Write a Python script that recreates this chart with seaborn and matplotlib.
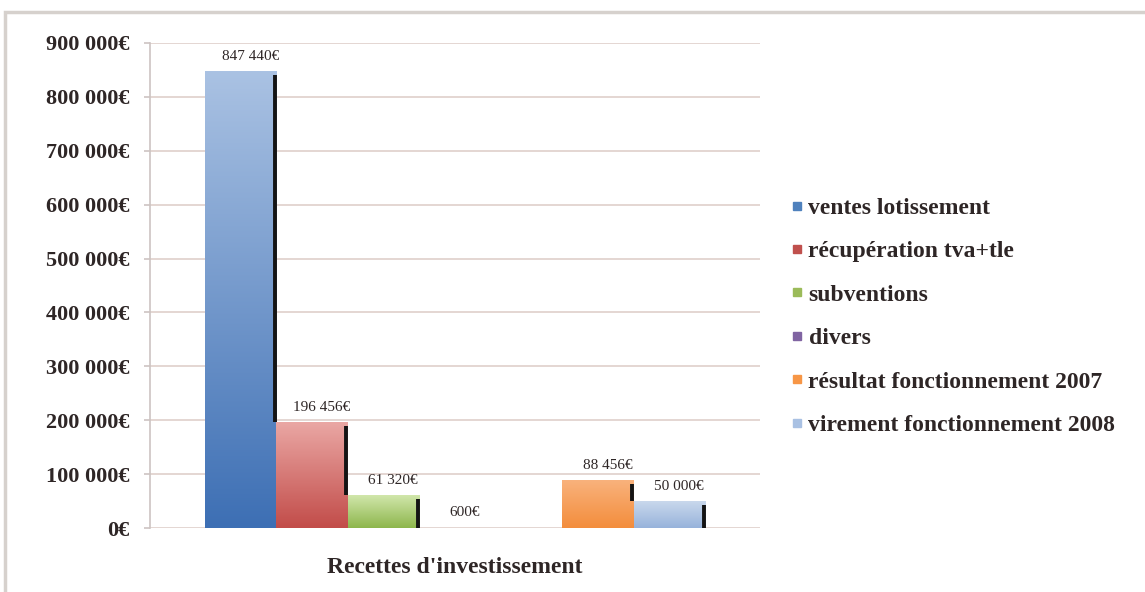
import numpy as np
import pandas as pd
import matplotlib
matplotlib.use("Agg")
import matplotlib.pyplot as plt
import seaborn as sns
from matplotlib.colors import LinearSegmentedColormap
from matplotlib.lines import Line2D
from matplotlib.patches import Rectangle

# ---------------- data ----------------
series = ["ventes lotissement", "récupération tva+tle", "subventions", "divers",
          "résultat fonctionnement 2007", "virement fonctionnement 2008"]
values = [847440, 196456, 61320, 600, 88456, 50000]
category = "Recettes d'investissement"
yticks = [0, 100000, 200000, 300000, 400000, 500000, 600000, 700000, 800000, 900000]

# ---------------- style ----------------
legend_colors = ["#4f81bd", "#c0504d", "#9bbb59", "#8064a2", "#f79646", "#a9c1e3"]
grad_bottom = ["#3d6fb4", "#c24c49", "#8db64c", "#7a5f9e", "#f38d3c", "#97b3db"]
grad_top = ["#aac2e3", "#eaa7a4", "#d3e8ae", "#b9a8d0", "#f9b27c", "#c9d8ec"]

sns.set_theme(style="white")
plt.rcParams["font.family"] = ["Liberation Serif", "DejaVu Serif"]
text_color = "#2e2626"
grid_color = "#dfd0cb"
axis_color = "#cdc4c2"

slot_order = series[:4] + [" "] + series[4:]
df = pd.DataFrame({"serie": series, "valeur": values})

fig = plt.figure(figsize=(11.45, 5.92), dpi=100)
fig.patch.set_facecolor("white")
ax = fig.add_axes([150 / 1145, 64 / 592, 610 / 1145, 485 / 592])

sns.barplot(data=df, x="serie", y="valeur", hue="serie", order=slot_order,
            hue_order=series, palette=dict(zip(series, legend_colors)),
            width=1.0, dodge=False, legend=False, saturation=1, ax=ax,
            errorbar=None, zorder=3)

ax.set_xlim(-1.27, 7.27)
ax.set_ylim(0, 900000)

# gradient fill + right-edge dark line
bars = []
for cont in ax.containers:
    for b in cont:
        if np.isfinite(b.get_height()):
            bars.append(b)
bars.sort(key=lambda b: b.get_x())
for i, b in enumerate(bars):
    x0, w, h = b.get_x(), b.get_width(), b.get_height()
    cmap = LinearSegmentedColormap.from_list("g", [grad_bottom[i], grad_top[i]])
    im = ax.imshow(np.linspace(0, 1, 256).reshape(-1, 1), origin="lower",
                   extent=[x0, x0 + w, 0, h], aspect="auto", cmap=cmap, zorder=3.5)
    im.set_clip_path(b)
    b.set_edgecolor("none")
    nxt = 0
    if i + 1 < len(bars) and abs(bars[i + 1].get_x() - (x0 + w)) < 1e-6:
        nxt = bars[i + 1].get_height()
    if h > 10000 and h > nxt:
        ax.vlines(x0 + w - 0.02, nxt, h - 7000, color="#141414", lw=2.8, zorder=4)

ax.set_xlim(-1.27, 7.27)
ax.set_ylim(0, 900000)

# value labels
for b in bars:
    v = b.get_height()
    lbl = f"{v:,.0f}".replace(",", " ") + "€"
    ax.annotate(lbl, (b.get_x() + b.get_width() / 2, v), xytext=(7, 6),
                textcoords="offset points", ha="center", va="bottom",
                fontsize=11, color=text_color)

# axes styling
ax.set_yticks(yticks)
ax.set_yticklabels([f"{t:,.0f}".replace(",", " ") + "€" for t in yticks],
                   fontweight="bold")
ax.yaxis.grid(True, color=grid_color, lw=1.2, zorder=0)
ax.set_axisbelow(True)
ax.set_xticks([])
ax.set_xlabel(category, fontsize=17, fontweight="bold", color=text_color, labelpad=21)
ax.set_ylabel("")
for s in ["top", "right", "bottom"]:
    ax.spines[s].set_visible(False)
ax.spines["left"].set_color(axis_color)
ax.spines["left"].set_linewidth(1.2)
ax.tick_params(axis="y", length=4, width=1.2, color=axis_color,
               labelsize=16, labelcolor=text_color, pad=11, left=True)

# legend
handles = [Line2D([], [], marker="s", linestyle="", markersize=6, color=c)
           for c in legend_colors]
fig.legend(handles, series, loc="upper left", bbox_to_anchor=(766 / 1145, 1 - 176 / 592),
           frameon=False, labelspacing=0.93, handletextpad=0.1,
           handlelength=0.8, labelcolor=text_color, prop={"weight": "bold", "size": 17})

# outer frame
fig.patches.append(Rectangle((5 / 1145, -0.1), 2, 1.1 - 12 / 592, transform=fig.transFigure,
                             fill=False, edgecolor="#d6d1cd", lw=2.5, zorder=0))

fig.savefig("out.png", dpi=100)
